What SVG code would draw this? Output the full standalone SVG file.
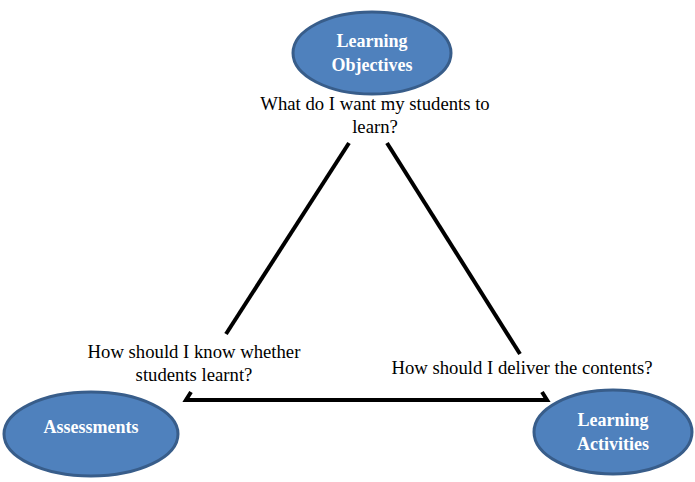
<svg xmlns="http://www.w3.org/2000/svg" width="695" height="482" viewBox="0 0 695 482">
<style>
.node ellipse{fill:#4F81BD;stroke:#385D8A;stroke-width:3}
.nt{font-family:"Liberation Serif","Times New Roman",serif;font-weight:bold;font-size:18px;fill:#fff;text-anchor:middle}
.q{font-family:"Liberation Serif","Times New Roman",serif;font-size:18.7px;fill:#000;text-anchor:middle}
.edge{fill:none;stroke:#000;stroke-width:4;stroke-linejoin:miter}
</style>
<rect width="695" height="482" fill="#fff"/>
<g id="connectors">
<line class="edge" x1="349" y1="143" x2="226" y2="334"/>
<line class="edge" x1="387" y1="143" x2="520" y2="354"/>
<polyline class="edge" points="191,392 186,400 547,400 542,392"/>
</g>
<g id="objectives" class="node">
<ellipse cx="372" cy="53" rx="79" ry="41"/>
<text class="nt" x="372" y="47">Learning</text>
<text class="nt" x="372" y="71">Objectives</text>
</g>
<g id="assessments" class="node">
<ellipse cx="91" cy="434" rx="87" ry="42"/>
<text class="nt" x="91" y="433">Assessments</text>
</g>
<g id="activities" class="node">
<ellipse cx="613" cy="432" rx="79" ry="42"/>
<text class="nt" x="613" y="426">Learning</text>
<text class="nt" x="613" y="450">Activities</text>
</g>
<g id="labels">
<text class="q" x="375" y="110">What do I want my students to</text>
<text class="q" x="375" y="133">learn?</text>
<text class="q" x="194" y="358">How should I know whether</text>
<text class="q" x="194" y="381">students learnt?</text>
<text class="q" x="522" y="374">How should I deliver the contents?</text>
</g>
</svg>
